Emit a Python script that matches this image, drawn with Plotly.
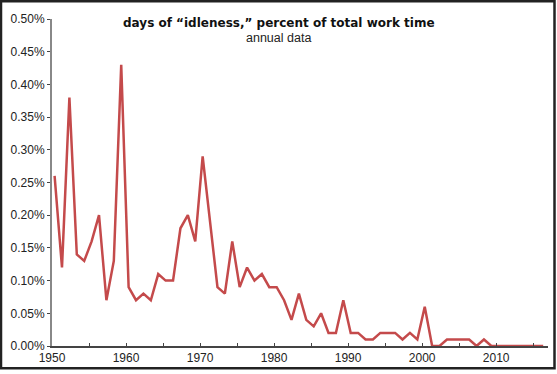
import plotly.graph_objects as go

years = list(range(1950, 2017))
idleness_pct = [
    0.26, 0.12, 0.38, 0.14, 0.13, 0.16, 0.20, 0.07, 0.13, 0.43,  # 1950-1959
    0.09, 0.07, 0.08, 0.07, 0.11, 0.10, 0.10, 0.18, 0.20, 0.16,  # 1960-1969
    0.29, 0.19, 0.09, 0.08, 0.16, 0.09, 0.12, 0.10, 0.11, 0.09,  # 1970-1979
    0.09, 0.07, 0.04, 0.08, 0.04, 0.03, 0.05, 0.02, 0.02, 0.07,  # 1980-1989
    0.02, 0.02, 0.01, 0.01, 0.02, 0.02, 0.02, 0.01, 0.02, 0.01,  # 1990-1999
    0.06, 0.00, 0.00, 0.01, 0.01, 0.01, 0.01, 0.00, 0.01, 0.00,  # 2000-2009
    0.00, 0.00, 0.00, 0.00, 0.00, 0.00, 0.00,                    # 2010-2016
]
x_tick_vals = [1950, 1960, 1970, 1980, 1990, 2000, 2010]
y_tick_vals = [0.0, 0.0005, 0.001, 0.0015, 0.002, 0.0025, 0.003, 0.0035, 0.004, 0.0045, 0.005]

title_text = "days of \u201cidleness,\u201d percent of total work time"
subtitle_text = "annual data"

# annual observations plotted mid-period
x_vals = [y + 0.35 for y in years]
y_vals = [v / 100 for v in idleness_pct]

W, H = 557, 374
L, R, T, B = 52, 9, 19, 25
pw, ph = W - L - R, H - T - B

fig = go.Figure()
fig.add_trace(go.Scatter(
    x=x_vals, y=y_vals, mode="lines",
    line=dict(color="#c44a4b", width=2.5),
    hoverinfo="skip", showlegend=False,
))

font_family = "Liberation Sans, Arial, sans-serif"

fig.update_layout(
    width=W, height=H,
    margin=dict(l=L, r=R, t=T, b=B, pad=0),
    paper_bgcolor="white", plot_bgcolor="white",
    font=dict(family=font_family, size=12, color="#222"),
    xaxis=dict(
        range=[1950, 2017], tickvals=x_tick_vals, ticktext=[str(v) for v in x_tick_vals],
        showgrid=False, zeroline=False,
        showline=True, linecolor="#444", linewidth=1.5,
        ticks="inside", ticklen=3, tickwidth=1, tickcolor="#444",
        minor=dict(dtick=5, tick0=1950, ticks="inside", ticklen=3, tickwidth=1, tickcolor="#444", showgrid=False),
        tickfont=dict(size=12, color="#222"),
    ),
    yaxis=dict(
        range=[0, 0.005], tickvals=y_tick_vals, tickformat=".2%",
        showgrid=False, zeroline=False,
        showline=True, linecolor="#888", linewidth=2,
        ticks="outside", ticklen=3, tickwidth=1, tickcolor="#444",
        tickfont=dict(size=12, color="#222"),
    ),
    annotations=[
        dict(text="<b>" + title_text + "</b>", xref="paper", yref="paper",
             x=(279 - L) / pw, y=(H - B - 23) / ph, xanchor="center", yanchor="middle",
             showarrow=False, font=dict(size=12, color="#111", family="DejaVu Sans, sans-serif")),
        dict(text=subtitle_text, xref="paper", yref="paper",
             x=(278 - L) / pw, y=(H - B - 38) / ph, xanchor="center", yanchor="middle",
             showarrow=False, font=dict(size=12.5, color="#222", family=font_family)),
    ],
    shapes=[
        dict(type="rect", xref="paper", yref="paper",
             x0=(1 - L) / pw, x1=(554.5 - L) / pw,
             y0=(H - B - 371.5) / ph, y1=(H - B - 1) / ph,
             line=dict(color="#222", width=2.5), fillcolor="rgba(0,0,0,0)", layer="above"),
    ],
)

fig.write_html(
    "out.html",
    config={"displayModeBar": False},
    post_script=(
        "document.body.style.margin='0';document.body.style.padding='0';"
        "document.body.style.overflow='hidden';"
        "document.documentElement.style.overflow='hidden';"
    ),
)
